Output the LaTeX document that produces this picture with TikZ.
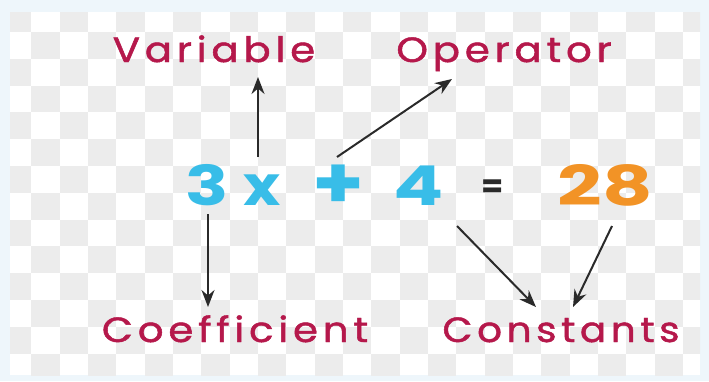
\documentclass[tikz,border=0pt]{standalone}
\usepackage{fontspec}
\setmainfont{Poppins}
\newfontfamily\lblfont{Poppins}[LetterSpace=12,FakeBold=1.3]
\usetikzlibrary{arrows.meta}
\definecolor{lblcol}{HTML}{B5184B}
\definecolor{eqblue}{HTML}{38BDE8}
\definecolor{eqorange}{HTML}{F29326}
\definecolor{arrcol}{HTML}{2A2A2A}
\definecolor{chk}{HTML}{ECECEC}
\definecolor{tint}{HTML}{EEF6FB}
\newcommand{\wide}[2]{\scalebox{#1}[1]{#2}}
\tikzset{
  lbl/.style={inner sep=0pt, anchor=base, text=lblcol, font=\lblfont\fontsize{35}{35}\selectfont},
  term/.style={inner sep=0pt, anchor=base, font=\bfseries\fontsize{55}{55}\selectfont},
  conn/.style={draw=arrcol, line width=2pt, -{Stealth[length=17pt,width=13pt]}},
}
\begin{document}
\begin{tikzpicture}[x=1pt,y=-1pt]
\useasboundingbox (0,0) rectangle (709,381);
\fill[tint] (0,0) rectangle (709,381);
\fill[white] (10,12) rectangle (700,375);
\begin{scope}
\clip (10,12) rectangle (700,375);
\foreach \i in {0,...,24}{
  \foreach \j in {0,...,13}{
    \pgfmathtruncatemacro{\parity}{mod(\i+\j,2)}
    \ifnum\parity=0
      \fill[chk] ({3+\i*28.33},{5.2+\j*26.8}) rectangle ++(28.33,26.8);
    \fi
  }
}
\end{scope}
% labels
\node[lbl] (var) at (214,62) {\wide{1.15}{Variable}};
\node[lbl] (op) at (504,62) {\wide{1.15}{Operator}};
\node[lbl] (coef) at (235,342) {\wide{1.15}{Coefficient}};
\node[lbl] (cons) at (561,342) {\wide{1.11}{Constants}};
% equation
\node[term, text=eqblue] (three) at (207.5,205) {\wide{1.3}{3}};
\node[term, text=eqblue] (xx) at (262.5,205) {\wide{1.15}{x}};
\node[term, text=eqblue, font=\bfseries\fontsize{72}{72}\selectfont] (plus) at (338,208) {\wide{1.15}{+}};
\node[term, text=eqblue] (four) at (418.5,205) {\wide{1.35}{4}};
\node[inner sep=0pt, text=arrcol, font=\bfseries\fontsize{32}{32}\selectfont] (eq) at (492.5,189) {=};
\node[term, text=eqorange] (twentyeight) at (605,205) {\wide{1.42}{28}};
% connector ends
\coordinate (s1) at (258,157); \coordinate (e1) at (258,77);
\coordinate (s2) at (337,157); \coordinate (e2) at (452,79);
\coordinate (s3) at (208,214); \coordinate (e3) at (208,307);
\coordinate (s4) at (457,226); \coordinate (e4) at (536,307);
\coordinate (s5) at (612,226); \coordinate (e5) at (573,307);
\draw[conn] (s1) -- (e1);
\draw[conn] (s2) -- (e2);
\draw[conn] (s3) -- (e3);
\draw[conn] (s4) -- (e4);
\draw[conn] (s5) -- (e5);
\end{tikzpicture}
\end{document}
